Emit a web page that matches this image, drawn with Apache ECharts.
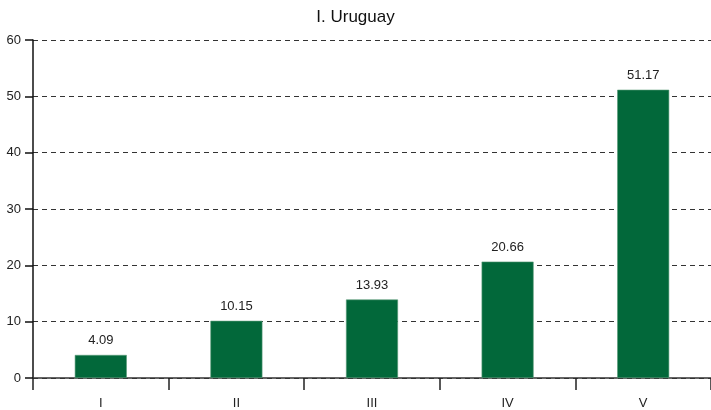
<!DOCTYPE html>
<html>
<head>
<meta charset="utf-8">
<script src="https://cdn.jsdelivr.net/npm/echarts@6/dist/echarts.min.js"></script>
<style>html,body{margin:0;padding:0;background:#fff}#c{width:711px;height:410px}</style>
</head>
<body>
<div id="c"></div>
<script>
var categories = ['I', 'II', 'III', 'IV', 'V'];
var values = [4.09, 10.15, 13.93, 20.66, 51.17];
var yTicks = [0, 10, 20, 30, 40, 50, 60];
var titleText = 'I. Uruguay';

var chart = echarts.init(document.getElementById('c'), null, {renderer: 'canvas'});
chart.setOption({
  animation: false,
  title: {
    text: titleText,
    left: 'center',
    top: 4,
    textStyle: {fontFamily: 'Liberation Sans, Arial, sans-serif', fontSize: 17, fontWeight: 'normal', color: '#111'}
  },
  grid: {left: 33, right: 0, top: 40, bottom: 32, containLabel: false},
  xAxis: {
    type: 'category',
    data: categories,
    boundaryGap: true,
    axisLine: {show: true, lineStyle: {color: '#333', width: 1.5}},
    axisTick: {show: true, length: 12, lineStyle: {color: '#222', width: 1.5}},
    axisLabel: {margin: 19, fontFamily: 'Liberation Sans, Arial, sans-serif', fontSize: 13, color: '#222'},
    splitLine: {show: false}
  },
  yAxis: {
    type: 'value',
    min: yTicks[0],
    max: yTicks[yTicks.length - 1],
    interval: 10,
    axisLine: {show: true, lineStyle: {color: '#111', width: 1.5}},
    axisTick: {show: true, length: 8, lineStyle: {color: '#111', width: 1.5}},
    axisLabel: {margin: 12, fontFamily: 'Liberation Sans, Arial, sans-serif', fontSize: 13, color: '#222'},
    splitLine: {show: true, lineStyle: {type: [5, 4], color: '#333', width: 1}}
  },
  series: [{
    type: 'bar',
    data: values,
    barWidth: 52,
    itemStyle: {color: '#02683A', borderColor: '#5a9a78', borderWidth: 0.6},
    label: {
      show: true,
      position: 'top',
      distance: 8,
      formatter: function (p) { return p.value.toFixed(2); },
      fontFamily: 'Liberation Sans, Arial, sans-serif',
      fontSize: 13,
      color: '#222'
    }
  }]
});
</script>
</body>
</html>
